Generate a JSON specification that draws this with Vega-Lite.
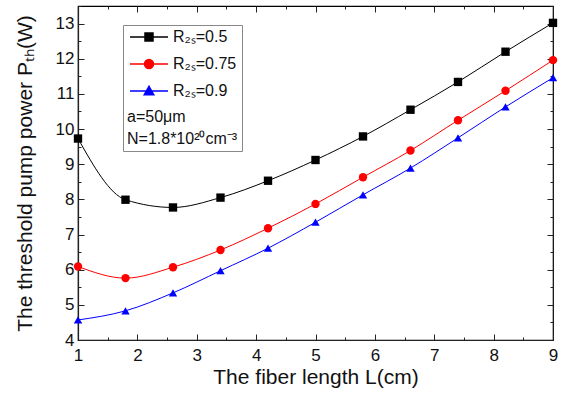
{
  "$schema": "https://vega.github.io/schema/vega-lite/v6.json",
  "autosize": "none",
  "width": 475,
  "height": 334,
  "padding": {"left": 78, "top": 6, "right": 12, "bottom": 54},
  "background": "white",
  "config": {
    "font": "Liberation Sans",
    "view": {"stroke": "black", "strokeWidth": 1.2},
    "axis": {
      "grid": false,
      "domainColor": "#222",
      "domainWidth": 1.2,
      "tickColor": "#222",
      "labelColor": "#111",
      "titleColor": "#111",
      "labelFont": "Liberation Sans",
      "titleFont": "Liberation Sans",
      "labelFontSize": 17,
      "titleFontSize": 21,
      "titleFontWeight": "normal"
    },
    "legend": {
      "orient": "none",
      "legendX": 45,
      "legendY": 19,
      "strokeColor": "#888888",
      "fillColor": "white",
      "padding": 4,
      "labelFont": "Liberation Sans",
      "labelFontSize": 16,
      "labelColor": "#111",
      "labelOffset": 30,
      "rowPadding": 11,
      "symbolSize": 100,
      "symbolStrokeWidth": 1.5,
      "symbolOpacity": 1,
      "titleOrient": "bottom",
      "titleAnchor": "start",
      "titleFont": "Liberation Sans",
      "titleFontSize": 16,
      "titleFontWeight": "normal",
      "titleColor": "#111",
      "titleLineHeight": 22,
      "titlePadding": 10
    }
  },
  "data": {
    "values": [
      {"L": 1.0, "P": 9.73, "series": "0.5"},
      {"L": 1.8, "P": 7.99, "series": "0.5"},
      {"L": 2.6, "P": 7.77, "series": "0.5"},
      {"L": 3.4, "P": 8.05, "series": "0.5"},
      {"L": 4.2, "P": 8.53, "series": "0.5"},
      {"L": 5.0, "P": 9.12, "series": "0.5"},
      {"L": 5.8, "P": 9.79, "series": "0.5"},
      {"L": 6.6, "P": 10.55, "series": "0.5"},
      {"L": 7.4, "P": 11.34, "series": "0.5"},
      {"L": 8.2, "P": 12.2, "series": "0.5"},
      {"L": 9.0, "P": 13.02, "series": "0.5"},
      {"L": 1.0, "P": 6.09, "series": "0.75"},
      {"L": 1.8, "P": 5.76, "series": "0.75"},
      {"L": 2.6, "P": 6.07, "series": "0.75"},
      {"L": 3.4, "P": 6.56, "series": "0.75"},
      {"L": 4.2, "P": 7.18, "series": "0.75"},
      {"L": 5.0, "P": 7.87, "series": "0.75"},
      {"L": 5.8, "P": 8.63, "series": "0.75"},
      {"L": 6.6, "P": 9.39, "series": "0.75"},
      {"L": 7.4, "P": 10.25, "series": "0.75"},
      {"L": 8.2, "P": 11.09, "series": "0.75"},
      {"L": 9.0, "P": 11.96, "series": "0.75"},
      {"L": 1.0, "P": 4.57, "series": "0.9"},
      {"L": 1.8, "P": 4.83, "series": "0.9"},
      {"L": 2.6, "P": 5.34, "series": "0.9"},
      {"L": 3.4, "P": 5.97, "series": "0.9"},
      {"L": 4.2, "P": 6.61, "series": "0.9"},
      {"L": 5.0, "P": 7.35, "series": "0.9"},
      {"L": 5.8, "P": 8.13, "series": "0.9"},
      {"L": 6.6, "P": 8.89, "series": "0.9"},
      {"L": 7.4, "P": 9.75, "series": "0.9"},
      {"L": 8.2, "P": 10.63, "series": "0.9"},
      {"L": 9.0, "P": 11.46, "series": "0.9"}
    ]
  },
  "resolve": {
    "axis": {"x": "independent", "y": "independent"},
    "scale": {"shape": "independent"},
    "legend": {"color": "independent", "shape": "independent"}
  },
  "layer": [
    {
      "mark": {"type": "line", "interpolate": "monotone", "strokeWidth": 1, "clip": true},
      "encoding": {
        "x": {
          "field": "L", "type": "quantitative",
          "scale": {"domain": [1, 9], "nice": false, "zero": false},
          "axis": {
            "orient": "bottom",
            "title": "The fiber length L(cm)",
            "values": [1, 1.5, 2, 2.5, 3, 3.5, 4, 4.5, 5, 5.5, 6, 6.5, 7, 7.5, 8, 8.5, 9],
            "labelExpr": "datum.value % 1 === 0 ? '' + datum.value : ''",
            "tickSize": {"condition": {"test": "datum.value % 1 !== 0", "value": -3}, "value": -6},
            "labelPadding": 13,
            "labelFlush": false,
            "titlePadding": 3
          }
        },
        "y": {
          "field": "P", "type": "quantitative",
          "scale": {"domain": [4, 13.5], "nice": false, "zero": false},
          "axis": {
            "orient": "left",
            "title": "The threshold pump power Pₜₕ(W)",
            "values": [4, 4.5, 5, 5.5, 6, 6.5, 7, 7.5, 8, 8.5, 9, 9.5, 10, 10.5, 11, 11.5, 12, 12.5, 13, 13.5],
            "labelExpr": "datum.value % 1 === 0 ? '' + datum.value : ''",
            "tickSize": {"condition": {"test": "datum.value % 1 !== 0", "value": -3}, "value": -6},
            "labelPadding": 10,
            "labelFlush": false,
            "titlePadding": 20
          }
        },
        "color": {
          "field": "series", "type": "nominal",
          "scale": {"domain": ["0.5", "0.75", "0.9"], "range": ["#000000", "#ff0000", "#0000ff"]},
          "legend": null
        }
      }
    },
    {
      "mark": {"type": "point", "filled": true, "opacity": 1, "size": 70},
      "encoding": {
        "x": {
          "field": "L", "type": "quantitative",
          "axis": {
            "orient": "top", "title": null, "labels": false, "domain": false,
            "values": [1, 1.5, 2, 2.5, 3, 3.5, 4, 4.5, 5, 5.5, 6, 6.5, 7, 7.5, 8, 8.5, 9],
            "tickSize": {"condition": {"test": "datum.value % 1 !== 0", "value": -3}, "value": -6}
          }
        },
        "y": {
          "field": "P", "type": "quantitative",
          "axis": {
            "orient": "right", "title": null, "labels": false, "domain": false,
            "values": [4, 4.5, 5, 5.5, 6, 6.5, 7, 7.5, 8, 8.5, 9, 9.5, 10, 10.5, 11, 11.5, 12, 12.5, 13, 13.5],
            "tickSize": {"condition": {"test": "datum.value % 1 !== 0", "value": -3}, "value": -6}
          }
        },
        "color": {"field": "series", "type": "nominal", "legend": null},
        "shape": {
          "field": "series", "type": "nominal",
          "scale": {"domain": ["0.5", "0.75", "0.9"], "range": ["square", "circle", "triangle-up"]},
          "legend": null
        }
      }
    },
    {
      "transform": [{"filter": "datum.L > 100"}],
      "mark": {"type": "point", "filled": false, "opacity": 1, "strokeWidth": 1.5},
      "encoding": {
        "color": {
          "field": "series", "type": "nominal",
          "legend": {
            "labelExpr": "'R₂ₛ=' + datum.label",
            "title": ["a=50μm", "N=1.8*10²⁰cm⁻³"]
          }
        },
        "shape": {
          "field": "series", "type": "nominal",
          "scale": {
            "domain": ["0.5", "0.75", "0.9"],
            "range": [
              "M-1,0H6.6M2,-0.8H3.6V0.8H2ZM2,-0.5H3.6M2,-0.2H3.6M2,0.2H3.6M2,0.5H3.6",
              "M-1,0H6.6M3.7,0A0.9,0.9,0,1,1,1.9,0A0.9,0.9,0,1,1,3.7,0ZM1.95,-0.3H3.65M1.95,0.3H3.65M2.13,-0.6H3.47M2.13,0.6H3.47M2.39,-0.8H3.21M2.39,0.8H3.21",
              "M-1,0H6.6M2.8,-0.95L3.75,0.75H1.85ZM2.02,0.45H3.58M2.19,0.15H3.41M2.35,-0.15H3.25M2.52,-0.45H3.08"
            ]
          },
          "legend": {
            "labelExpr": "'R₂ₛ=' + datum.label",
            "title": ["a=50μm", "N=1.8*10²⁰cm⁻³"]
          }
        }
      }
    }
  ]
}
